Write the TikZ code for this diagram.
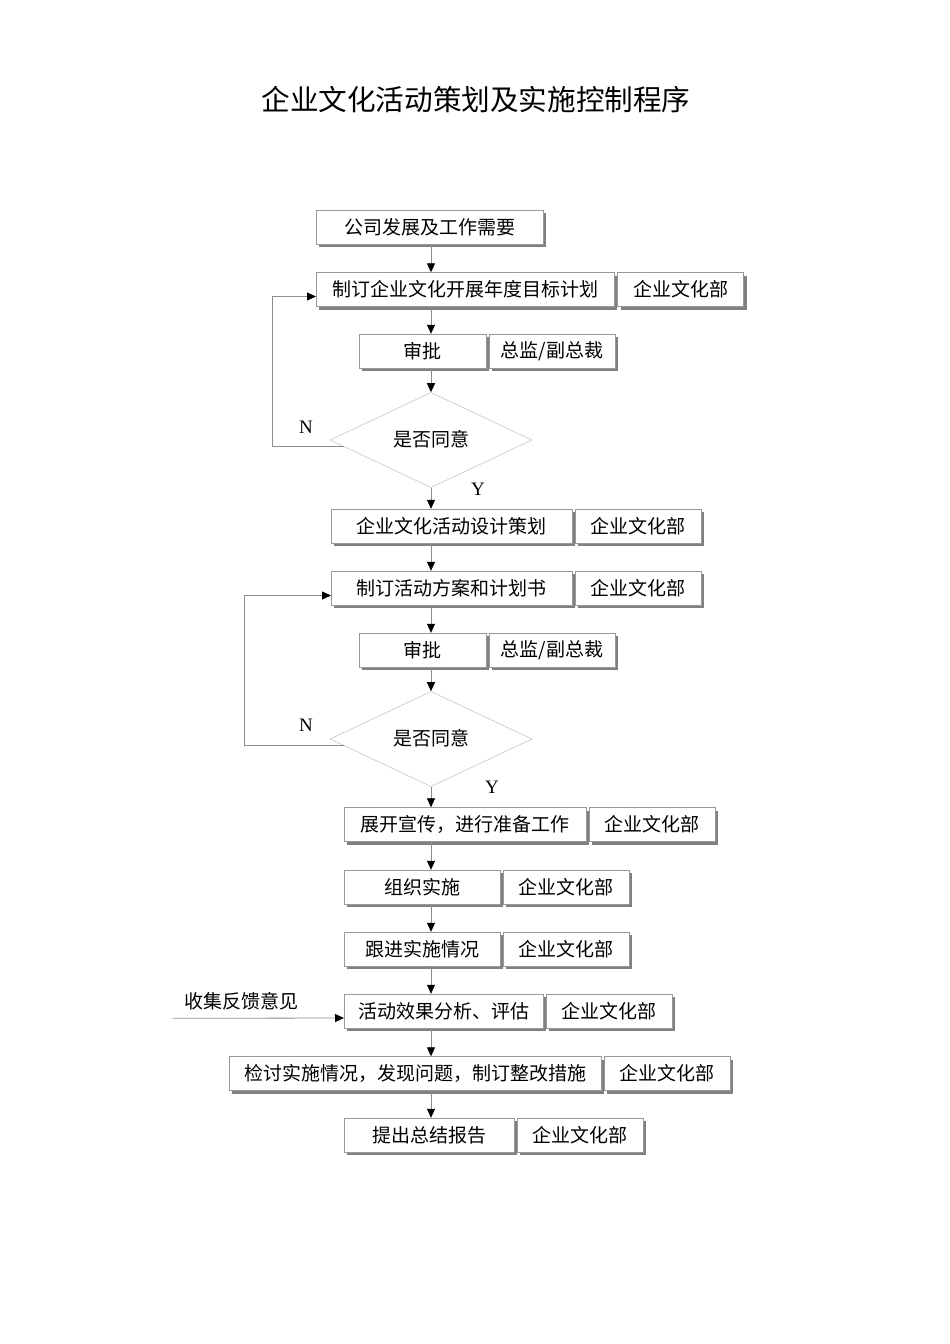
\documentclass[tikz,border=0pt]{standalone}
\usepackage{fontspec}
\setmainfont{Liberation Serif}
\newfontfamily\cjk{Noto Sans CJK SC}
\usetikzlibrary{shapes.geometric,arrows.meta,positioning,shadows,calc}

\begin{document}
\begin{tikzpicture}[x=1pt,y=-1pt,>={Triangle[width=8pt,length=9pt,color=black]},
  main box/.style={draw=black!40, fill=white, minimum height=34pt, inner sep=0pt,
    font=\cjk\fontsize{19}{22}\selectfont,
    drop shadow={shadow xshift=3pt,shadow yshift=-3pt,fill=black!50,opacity=1}},
  side box/.style={main box, minimum width=126pt},
  check node/.style={diamond, draw=black!30, minimum width=202pt, minimum height=86pt,
    inner sep=0pt, font=\cjk\fontsize{19}{22}\selectfont},
  flow/.style={->, draw=black!45, line width=0.8pt},
  mark label/.style={font=\fontsize{19}{22}\selectfont}]

  \useasboundingbox (0,0) rectangle (950,1344);
  \coordinate (axis) at (431,0);

  \node[font=\cjk\fontsize{28.6}{32}\selectfont] (title) at (476,100) {企业文化活动策划及实施控制程序};

  % plan
  \node[main box, minimum width=227pt, anchor=west] (b1) at (316,227) {公司发展及工作需要};
  \node[main box, minimum width=298pt, anchor=west] (b2) at (316,289.5) {制订企业文化开展年度目标计划};
  \node[side box, right=3pt of b2] (s2) {企业文化部};
  \node[main box, minimum width=127pt, anchor=west] (b3) at (359,351) {审批};
  \node[side box, right=2.5pt of b3] (s3) {总监/副总裁};
  \node[check node] (d1) at (431,440) {\raisebox{3pt}{是否同意}};
  \node[mark label] (n1) at (306,427) {N};
  \node[mark label] (y1) at (478,489) {Y};

  % activity design
  \node[main box, minimum width=241pt, anchor=west] (b4) at (331,526) {企业文化活动设计策划};
  \node[side box, right=2.5pt of b4] (s4) {企业文化部};
  \node[main box, minimum width=241pt, anchor=west] (b5) at (331,588) {制订活动方案和计划书};
  \node[side box, right=2.5pt of b5] (s5) {企业文化部};
  \node[main box, minimum width=127pt, anchor=west] (b6) at (359,650) {审批};
  \node[side box, right=2.5pt of b6] (s6) {总监/副总裁};
  \node[check node] (d2) at (431,739) {\raisebox{3pt}{是否同意}};
  \node[mark label] (n2) at (306,725) {N};
  \node[mark label] (y2) at (492,787) {Y};

  % implementation
  \node[main box, minimum width=242pt, anchor=west] (b7) at (344,824.5) {展开宣传，进行准备工作};
  \node[side box, right=2.5pt of b7] (s7) {企业文化部};
  \node[main box, minimum width=156pt, anchor=west] (b8) at (344,887) {组织实施};
  \node[side box, right=2.5pt of b8] (s8) {企业文化部};
  \node[main box, minimum width=156pt, anchor=west] (b9) at (344,949) {跟进实施情况};
  \node[side box, right=2.5pt of b9] (s9) {企业文化部};
  \node[main box, minimum width=199pt, anchor=west] (b10) at (344,1011) {活动效果分析、评估};
  \node[side box, right=2.5pt of b10] (s10) {企业文化部};
  \node[main box, minimum width=372pt, anchor=west] (b11) at (229,1073.5) {检讨实施情况，发现问题，制订整改措施};
  \node[side box, right=2.5pt of b11] (s11) {企业文化部};
  \node[main box, minimum width=170pt, anchor=west] (b12) at (344,1135) {提出总结报告};
  \node[side box, right=2.5pt of b12] (s12) {企业文化部};

  \node[font=\cjk\fontsize{19}{22}\selectfont] (fb) at (241,1001) {收集反馈意见};
  \coordinate (fbin) at (172.7,1018.3);

  \foreach \a/\b in {b1/b2,b2/b3,b3/d1,d1/b4,b4/b5,b5/b6,b6/d2,d2/b7,b7/b8,b8/b9,b9/b10,b10/b11,b11/b12}
    \draw[flow] (\a.south -| axis) -- (\b.north -| axis);

  \draw[flow] ($(d1.west)!0.14!(d1.south)$) -- ++(-72,0) |- ([yshift=-7pt]b2.west);
  \draw[flow] ($(d2.west)!0.14!(d2.south)$) -- ++(-100,0) |- ([yshift=-7.5pt]b5.west);
  \draw[flow] (fbin) -- ([yshift=-7pt]b10.west);
\end{tikzpicture}
\end{document}
